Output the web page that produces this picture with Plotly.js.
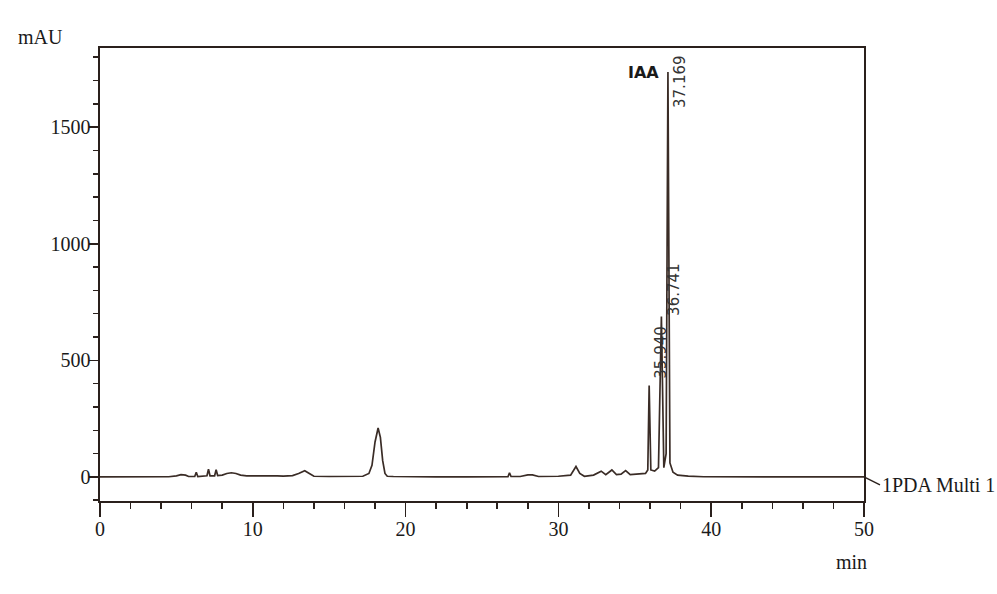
<!DOCTYPE html>
<html>
<head>
<meta charset="utf-8">
<script src="https://cdn.plot.ly/plotly-3.0.1.min.js"></script>
<style>
html,body{margin:0;padding:0;background:#fff;}
#chart{width:997px;height:594px;}
</style>
</head>
<body>
<div id="chart"></div>
<script>
// Retention time (min)
const time = [
  0, 2, 3.4, 3.5, 3.6, 4.5, 5.0, 5.3, 5.6, 5.8,
  6.2, 6.3, 6.4, 6.8, 7.0, 7.1, 7.2, 7.5, 7.6, 7.7,
  8.0, 8.3, 8.6, 8.9, 9.2, 9.6, 10.5, 11.0, 11.3, 11.6,
  12.0, 12.6, 13.0, 13.4, 13.7, 14.0, 15.0, 16.0, 16.5, 17.2,
  17.6, 17.8, 18.0, 18.2, 18.35, 18.5, 18.65, 18.8, 19.2, 20.0,
  22.0, 24.0, 26.7, 26.8, 26.9, 27.5, 28.0, 28.3, 28.7, 30.0,
  30.8, 31.15, 31.4, 31.7, 32.3, 32.8, 33.1, 33.5, 33.8, 34.1,
  34.4, 34.7, 35.2, 35.7, 35.85, 35.94, 36.05, 36.3, 36.55, 36.741,
  36.9, 37.05, 37.169, 37.3, 37.5, 37.8, 38.5, 39.5, 50
];
// Absorbance (mAU)
const absorbance = [
  0, 0, 0, 3, 0, 1, 5, 10, 8, 2,
  2, 20, 2, 3, 5, 33, 5, 5, 31, 6,
  8, 15, 18, 15, 8, 5, 5, 6, 8, 5,
  4, 6, 15, 27, 15, 3, 2, 3, 2, 3,
  15, 50, 150, 210, 170, 70, 15, 3, 2, 1,
  0, 0, 1, 18, 2, 2, 9, 9, 2, 3,
  8, 45, 15, 3, 8, 25, 10, 30, 10, 12,
  27, 10, 12, 15, 30, 392, 30, 25, 40, 688,
  40, 100, 1736, 60, 20, 8, 4, 1, 0
];
const peakTimes = [35.940, 36.741, 37.169];
const peakHeights = [392, 688, 1736];
const peakLabels = ['35.940', '36.741', '37.169'];
const compoundName = 'IAA';
const compoundPeakIndex = 2;
const xTickVals = [0, 10, 20, 30, 40, 50];
const yTickVals = [0, 500, 1000, 1500];
const seriesName = '1PDA Multi 1';
const yUnit = 'mAU';
const xUnit = 'min';

const ink = '#2a201c';
const serif = 'Liberation Serif, Times New Roman, serif';
const labelOffsets = [[11, 33], [13, 27], [12, -9]];

const annotations = peakLabels.map((t, i) => ({
  x: peakTimes[i], y: peakHeights[i], xref: 'x', yref: 'y',
  text: t, showarrow: false, textangle: -90,
  xshift: labelOffsets[i][0], yshift: labelOffsets[i][1],
  font: {family: 'DejaVu Sans, sans-serif', size: 15, color: '#333'}
}));
annotations.push({
  x: peakTimes[compoundPeakIndex], y: peakHeights[compoundPeakIndex], xref: 'x', yref: 'y',
  text: '<b>' + compoundName + '</b>', showarrow: false,
  xshift: -24, yshift: 0,
  font: {family: 'DejaVu Sans, sans-serif', size: 16, color: '#1a1a1a'}
});
annotations.push({
  x: time[time.length - 1], y: absorbance[absorbance.length - 1], xref: 'x', yref: 'y',
  text: seriesName, showarrow: true, arrowhead: 0, arrowwidth: 1.4, arrowcolor: ink,
  ax: 16, ay: 8, standoff: 0, xanchor: 'left', yanchor: 'middle',
  font: {family: serif, size: 20, color: '#1a1a1a'}
});
annotations.push({
  x: -0.0785, y: 1.024, xref: 'paper', yref: 'paper',
  text: yUnit, showarrow: false, xanchor: 'center', yanchor: 'middle',
  font: {family: serif, size: 20, color: '#1a1a1a'}
});
annotations.push({
  x: 0.983, y: -0.135, xref: 'paper', yref: 'paper',
  text: xUnit, showarrow: false, xanchor: 'center', yanchor: 'middle',
  font: {family: serif, size: 20, color: '#1a1a1a'}
});

const trace = {
  x: time, y: absorbance, type: 'scatter', mode: 'lines',
  line: {color: '#3a2c26', width: 1.7},
  hoverinfo: 'skip', showlegend: false
};

const layout = {
  width: 997, height: 594,
  margin: {l: 100, r: 133, t: 48, b: 93},
  paper_bgcolor: '#fff', plot_bgcolor: '#fff',
  showlegend: false,
  xaxis: {
    range: [0, 50], tickvals: xTickVals, ticktext: xTickVals.map(String),
    ticks: 'outside', ticklen: 14, tickwidth: 1.6, tickcolor: ink,
    showline: true, linecolor: ink, linewidth: 1.6, mirror: true,
    showgrid: false, zeroline: false, ticklabelstandoff: -5,
    tickfont: {family: serif, size: 20, color: '#1a1a1a'},
    minor: {dtick: 2, ticks: 'outside', ticklen: 6, tickwidth: 1.6, tickcolor: ink, showgrid: false}
  },
  yaxis: {
    range: [-103, 1839], tickvals: yTickVals, ticktext: yTickVals.map(String),
    ticks: 'outside', ticklen: 9, tickwidth: 1.6, tickcolor: ink,
    showline: true, linecolor: ink, linewidth: 1.6, mirror: true,
    showgrid: false, zeroline: false, ticklabelstandoff: -5,
    tickfont: {family: serif, size: 20, color: '#1a1a1a'},
    minor: {dtick: 100, ticks: 'outside', ticklen: 5, tickwidth: 1.6, tickcolor: ink, showgrid: false}
  },
  annotations: annotations
};

Plotly.newPlot('chart', [trace], layout, {staticPlot: true, displayModeBar: false});
</script>
</body>
</html>
